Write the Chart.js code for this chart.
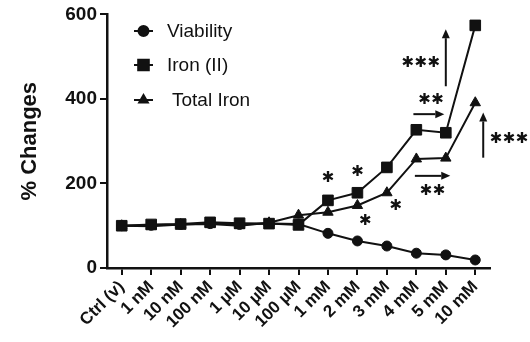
<!DOCTYPE html>
<html>
<head>
<meta charset="utf-8">
<script src="https://cdn.jsdelivr.net/npm/chart.js@4.4.1/dist/chart.umd.min.js"></script>
<style>
  html, body { margin: 0; padding: 0; background: #fff; }
  #wrap { width: 530px; height: 342px; position: relative; }
</style>
</head>
<body>
<div id="wrap"><canvas id="chart"></canvas></div>
<script>
// ── Data ──
const CATEGORIES = ["Ctrl (v)", "1 nM", "10 nM", "100 nM", "1 µM", "10 µM", "100 µM",
                    "1 mM", "2 mM", "3 mM", "4 mM", "5 mM", "10 mM"];
const VIABILITY  = [100, 101, 103, 105, 103, 105, 104, 82, 64, 52, 35, 31, 19];
const IRON_II    = [100, 103, 104, 108, 106, 105, 102, 160, 178, 238, 327, 320, 574];
const TOTAL_IRON = [100, 99, 103, 104, 100, 107, 125, 132, 148, 178, 258, 260, 391];
const Y_TICKS    = [0, 200, 400, 600];

// significance marks: [category index (fractional), value, count]
const STARS = [
  [7.0, 212, 1], [8.0, 228, 1], [8.27, 110, 1], [9.3, 146, 1],
  [10.15, 485, 3], [10.5, 398, 2], [10.55, 181, 2], [13.15, 306, 3]
];
// arrows: [x0 idx, v0, x1 idx, v1] (head at end)
const ARROWS = [
  [11.0, 430, 11.0, 565],
  [12.27, 261, 12.27, 368],
  [9.9, 364, 10.95, 364],
  [9.95, 218, 11.15, 218]
];

const LEGEND = [
  { label: "Viability",  style: "circle",   r: 5,   y: 31,  tx: 167 },
  { label: "Iron (II)",  style: "rect",     r: 7.5, y: 65,  tx: 167 },
  { label: "Total Iron", style: "triangle", r: 5,   y: 100, tx: 172 }
];

// ── Annotation plugin (stars, arrows, legend) ──
const annotations = {
  id: "annotations",
  afterDatasetsDraw(chart) {
    const ctx = chart.ctx;
    const xs = chart.scales.x, ys = chart.scales.y;
    const step = xs.getPixelForValue(1) - xs.getPixelForValue(0);
    const px = i => xs.getPixelForValue(0) + i * step;

    ctx.save();
    ctx.fillStyle = "#111";
    ctx.strokeStyle = "#111";

    // stars
    ctx.font = "bold 15px 'DejaVu Sans', sans-serif";
    ctx.textAlign = "center";
    ctx.textBaseline = "middle";
    STARS.forEach(([i, v, n]) => {
      const cx = px(i), cy = ys.getPixelForValue(v);
      const gap = 13;
      for (let k = 0; k < n; k++) {
        ctx.fillText("✱", cx + (k - (n - 1) / 2) * gap, cy);
      }
    });

    // arrows
    ctx.lineWidth = 2;
    ARROWS.forEach(([i0, v0, i1, v1]) => {
      const x0 = px(i0), y0 = ys.getPixelForValue(v0);
      const x1 = px(i1), y1 = ys.getPixelForValue(v1);
      const a = Math.atan2(y1 - y0, x1 - x0);
      const hl = 9, hw = 4;
      const bx = x1 - hl * Math.cos(a), by = y1 - hl * Math.sin(a);
      ctx.beginPath();
      ctx.moveTo(x0, y0);
      ctx.lineTo(bx, by);
      ctx.stroke();
      ctx.beginPath();
      ctx.moveTo(x1, y1);
      ctx.lineTo(bx + hw * Math.sin(a), by - hw * Math.cos(a));
      ctx.lineTo(bx - hw * Math.sin(a), by + hw * Math.cos(a));
      ctx.closePath();
      ctx.fill();
    });

    // legend
    ctx.font = "19px 'Liberation Sans', Arial, sans-serif";
    ctx.textAlign = "left";
    LEGEND.forEach(l => {
      ctx.beginPath();
      ctx.moveTo(134, l.y);
      ctx.lineTo(153, l.y);
      ctx.stroke();
      Chart.helpers.drawPoint(ctx, { pointStyle: l.style, radius: l.r, borderWidth: 1 }, 143.5, l.y);
      ctx.fill();
      ctx.fillText(l.label, l.tx, l.y + 1);
    });
    ctx.restore();
  }
};

const series = (label, data, style, r) => ({
  label, data,
  borderColor: "#111",
  backgroundColor: "#111",
  borderWidth: 2,
  pointStyle: style,
  pointRadius: r,
  pointBorderWidth: 1,
  pointBackgroundColor: "#111",
  tension: 0
});

new Chart(document.getElementById("chart"), {
  type: "line",
  data: {
    labels: CATEGORIES,
    datasets: [
      series("Viability", VIABILITY, "circle", 5),
      series("Iron (II)", IRON_II, "rect", 7.5),
      series("Total Iron", TOTAL_IRON, "triangle", 6)
    ]
  },
  options: {
    responsive: true,
    maintainAspectRatio: false,
    animation: false,
    layout: { padding: { top: 13, right: 40, left: 0, bottom: 0 } },
    plugins: { legend: { display: false }, tooltip: { enabled: false } },
    scales: {
      x: {
        offset: true,
        afterFit(s) { s.height = 74; },
        grid: { display: true, offset: false, drawOnChartArea: false, drawTicks: true,
                tickLength: 7, color: "#111", lineWidth: 2 },
        border: { color: "#111", width: 2.5 },
        ticks: {
          color: "#111", minRotation: 45, maxRotation: 45, autoSkip: false, padding: 2,
          font: { family: "'Liberation Sans', Arial, sans-serif", size: 17, weight: "bold" }
        }
      },
      y: {
        min: 0, max: 600,
        afterFit(s) { s.width = 107; },
        afterBuildTicks(s) { s.ticks = Y_TICKS.map(v => ({ value: v })); },
        grid: { display: true, drawOnChartArea: false, drawTicks: true,
                tickLength: 7, color: "#111", lineWidth: 2 },
        border: { color: "#111", width: 2.5 },
        ticks: {
          color: "#111", padding: 3,
          font: { family: "'Liberation Sans', Arial, sans-serif", size: 19, weight: "bold" }
        },
        title: {
          display: true, text: "% Changes", color: "#111",
          padding: { top: 17, bottom: 0 },
          font: { family: "'Liberation Sans', Arial, sans-serif", size: 22, weight: "bold", lineHeight: 1.2 }
        }
      }
    }
  },
  plugins: [annotations]
});
</script>
</body>
</html>
